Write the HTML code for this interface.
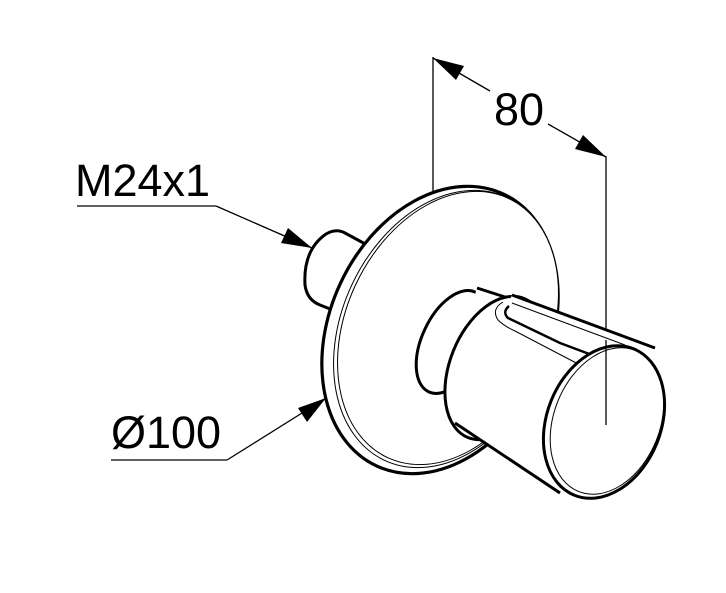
<!DOCTYPE html>
<html><head><meta charset="utf-8"><style>
html,body{margin:0;padding:0;background:#fff;}
svg{display:block;}
text{font-family:"Liberation Sans",Arial,sans-serif;fill:#000;}
</style></head><body>
<svg width="726" height="593" viewBox="0 0 726 593" xmlns="http://www.w3.org/2000/svg">
<!-- dimension 80 -->
<line x1="433" y1="57" x2="433" y2="197" stroke="#000" stroke-width="1.3"/>
<line x1="606" y1="156" x2="606" y2="425" stroke="#000" stroke-width="1.3"/>
<line x1="433" y1="58" x2="490" y2="91" stroke="#000" stroke-width="1.3"/>
<line x1="548" y1="124" x2="606" y2="157" stroke="#000" stroke-width="1.3"/>
<polygon points="433,58 464,66 456,80" fill="#000"/>
<polygon points="606,157 575,149 583,135" fill="#000"/>
<text x="494" y="125" font-size="45">80</text>
<!-- M24x1 -->
<text x="75" y="196" font-size="45">M24x1</text>
<line x1="77" y1="206" x2="216" y2="206" stroke="#000" stroke-width="1.3"/>
<line x1="216" y1="206" x2="312" y2="248" stroke="#000" stroke-width="1.3"/>
<polygon points="312,248 281,243 288,228" fill="#000"/>
<!-- Ø100 -->
<text x="111" y="448" font-size="45">Ø100</text>
<line x1="111" y1="460" x2="227" y2="460" stroke="#000" stroke-width="1.3"/>
<line x1="227" y1="460" x2="326" y2="398" stroke="#000" stroke-width="1.3"/>
<polygon points="326,398 307,422 298,408" fill="#000"/>
<!-- stub -->
<path d="M380,252 L345,233 Q336,228 326,234 Q303,250 305,285 Q307,300 320,305 L348,316 Z" fill="#fff" stroke="#000" stroke-width="3"/>
<!-- plate -->
<ellipse cx="440" cy="330" rx="110" ry="150" transform="rotate(25 440 330)" fill="#fff" stroke="#000" stroke-width="3.2"/>
<ellipse cx="446" cy="329" rx="104" ry="145" transform="rotate(25 446 329)" fill="none" stroke="#000" stroke-width="1"/>
<ellipse cx="448" cy="328" rx="102" ry="143" transform="rotate(25 448 328)" fill="#fff" stroke="#000" stroke-width="1"/>
<!-- stem -->
<ellipse cx="452" cy="342" rx="30" ry="55" transform="rotate(25 452 342)" fill="#fff" stroke="#000" stroke-width="3"/>
<path d="M477,288 L505,297 L470,420 L443,396 Z" fill="#fff"/>
<line x1="477" y1="288" x2="505" y2="297" stroke="#000" stroke-width="3"/>
<!-- knob -->
<ellipse cx="496" cy="368" rx="46" ry="75" transform="rotate(22 496 368)" fill="#fff" stroke="#000" stroke-width="3"/>
<path d="M512,295 L655,347 L560,495 L455,424 Z" fill="#fff"/>
<line x1="512" y1="295" x2="655" y2="348" stroke="#000" stroke-width="3"/>
<line x1="455" y1="423" x2="560" y2="493" stroke="#000" stroke-width="3"/>
<path d="M503,302 Q491,309 498,320 Q504,326 515,331 L582,366" fill="none" stroke="#000" stroke-width="1"/>
<path d="M509,306 Q502,312 508,318 L560,343 L600,358" fill="none" stroke="#000" stroke-width="2.5"/>
<line x1="512" y1="303" x2="625" y2="345" stroke="#000" stroke-width="1"/>
<ellipse cx="604" cy="422" rx="57" ry="79" transform="rotate(22 604 422)" fill="#fff" stroke="#000" stroke-width="3"/>
<ellipse cx="607" cy="421" rx="53" ry="76" transform="rotate(22 607 421)" fill="none" stroke="#000" stroke-width="1"/>
<line x1="606" y1="340" x2="606" y2="425" stroke="#000" stroke-width="1.3"/>
</svg>
</body></html>
